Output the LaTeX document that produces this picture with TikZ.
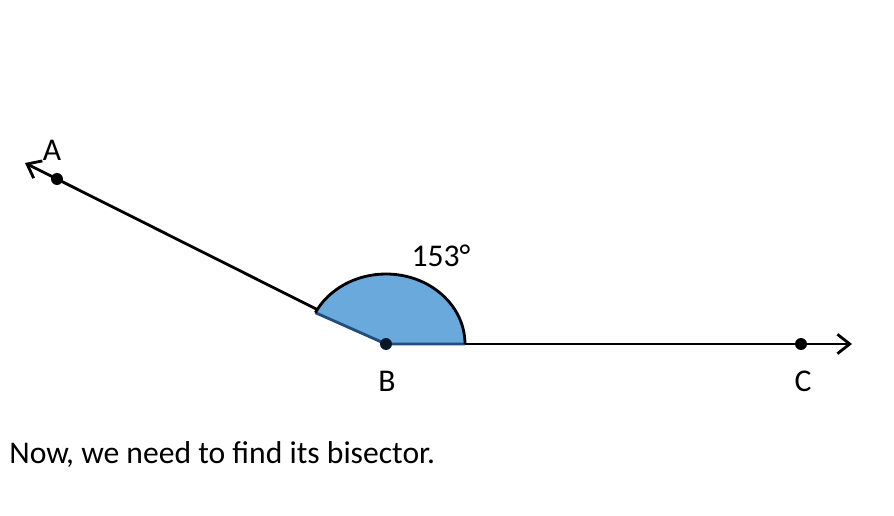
\documentclass[tikz,border=0pt]{standalone}
\usepackage{fontspec}
\setmainfont{Carlito}
\usetikzlibrary{arrows.meta}

\begin{document}
\begin{tikzpicture}[x=0.02cm,y=0.02cm]
		\definecolor{angleblue}{HTML}{6AA9DB}
		\definecolor{edgeblue}{HTML}{1F4E7E}
		\tikzset{ray/.style={line width=1.6pt,-{Straight Barb[length=7pt,width=11pt,line width=1.6pt]}},
			dot/.style={circle,fill=black,inner sep=0pt,minimum size=0.24cm},
			lbl/.style={font=\fontsize{18}{22}\selectfont}}
		\useasboundingbox (0,0) rectangle (894,515);
		
		\coordinate (B) at (386,171);
		\coordinate (Aend) at (25,352);
		\coordinate (Cend) at (852,171);
		
		% rays
		\draw[ray] (B) -- (Aend);
		\draw[ray] (B) -- (Cend);
		
		% angle
		\fill[angleblue] (B) -- ++(0:79) arc[start angle=0,end angle=153.4,x radius=79,y radius=70] coordinate (arcend) -- cycle;
		\draw[edgeblue,line width=1.6pt] (arcend) -- (B) -- ++(0:79);
		\draw[line width=1.6pt] (B) ++(0:79) arc[start angle=0,end angle=153.4,x radius=79,y radius=70];
		
		% points
		\node[dot] (A) at (57,336) {};
		\node[dot,fill=black!70!edgeblue] (Bdot) at (B) {};
		\node[dot] (C) at (801,171) {};
		
		% labels
		\node[lbl] (labA) at (52,365) {A};
		\node[lbl] (labB) at (387,134) {B};
		\node[lbl] (labC) at (803,134) {C};
		\node[lbl] (labangle) at (441,259) {153°};
		\node[lbl,anchor=west,inner sep=0pt] (note) at (9,60) {Now, we need to find its bisector.};
\end{tikzpicture}
\end{document}
